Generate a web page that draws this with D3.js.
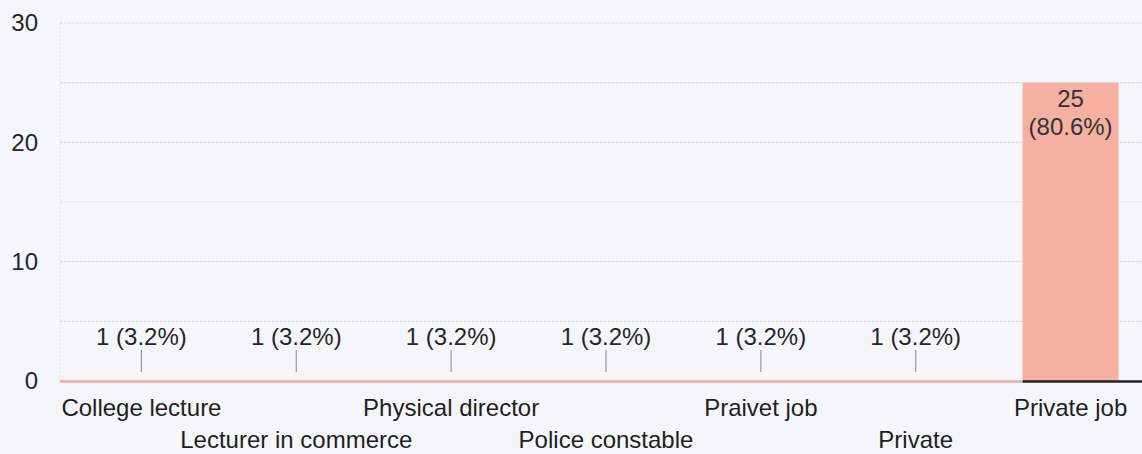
<!DOCTYPE html>
<html>
<head>
<meta charset="utf-8">
<script src="https://cdn.jsdelivr.net/npm/d3@7"></script>
<style>
  html, body { margin: 0; padding: 0; background: #f5f6f9; }
  svg { display: block; font-family: "Liberation Sans", Arial, sans-serif; }
</style>
</head>
<body>
<script>
// chart data
const categories = ['College lecture', 'Lecturer in commerce', 'Physical director', 'Police constable', 'Praivet job', 'Private', 'Private job'];
const counts = [1, 1, 1, 1, 1, 1, 25];
const percents = ['3.2%', '3.2%', '3.2%', '3.2%', '3.2%', '3.2%', '80.6%'];
const yTicks = [0, 10, 20, 30];
const yMinorTicks = [5, 15, 25];

const width = 1142,
  height = 454;

const fontSize = 24;

const svg = d3.select('body').append('svg')
  .attr('width', width)
  .attr('height', height);

const x = d3.scaleBand()
  .domain(categories)
  .range([64, 1148])
  .paddingInner(0.38)
  .paddingOuter(0.19);

const y = d3.scaleLinear()
  .domain([0, 30])
  .range([381, 23]);

// gridlines
svg.append('g')
  .selectAll('line.grid')
  .data(yTicks.concat(yMinorTicks).filter(d => d > 0))
  .join('line')
  .attr('x1', 60)
  .attr('x2', width)
  .attr('y1', d => y(d))
  .attr('y2', d => y(d))
  .attr('stroke', '#dcdde4')
  .attr('stroke-width', 1.2)
  .attr('stroke-dasharray', '3 1');

// faint left edge of plot
svg.append('line')
  .attr('x1', 60).attr('x2', 60)
  .attr('y1', y(30)).attr('y2', y(0))
  .attr('stroke', '#e0e1e8')
  .attr('stroke-dasharray', '2 2');

// y axis labels
const yAxis = d3.axisLeft(y).tickValues(yTicks).tickSize(0).tickPadding(0);
svg.append('g')
  .attr('transform', 'translate(38,0)')
  .call(yAxis)
  .call(g => g.select('.domain').remove())
  .selectAll('text')
  .attr('font-size', fontSize)
  .attr('font-family', '"Liberation Sans", Arial, sans-serif')
  .attr('fill', '#262626');

// bars (value-1 bars show up flat in the source picture)
const maxVal = d3.max(counts);
svg.append('g')
  .selectAll('rect')
  .data(categories)
  .join('rect')
  .attr('x', d => x(d))
  .attr('width', x.bandwidth())
  .attr('y', (d, i) => y(counts[i]))
  .attr('height', (d, i) => y(0) - y(counts[i]))
  .attr('fill', (d, i) => counts[i] === maxVal ? '#f5b0a2' : 'none');

// baseline: pink across the flat bars, dark under the tall one
const lastCat = categories[categories.length - 1];
svg.append('line')
  .attr('x1', 60).attr('x2', x(lastCat))
  .attr('y1', y(0) + 0.5).attr('y2', y(0) + 0.5)
  .attr('stroke', '#efaaa0')
  .attr('stroke-width', 2.5);
svg.append('line')
  .attr('x1', x(lastCat)).attr('x2', width)
  .attr('y1', y(0) + 0.5).attr('y2', y(0) + 0.5)
  .attr('stroke', '#222')
  .attr('stroke-width', 2.5);

// annotations
const ann = svg.append('g');
categories.forEach(function(c, i) {
  const cx = x(c) + x.bandwidth() / 2;
  if (counts[i] === maxVal) {
    ann.append('text')
      .attr('x', cx).attr('y', y(counts[i]) + 24)
      .attr('text-anchor', 'middle')
      .attr('font-size', fontSize)
      .attr('fill', '#333')
      .text(counts[i]);
    ann.append('text')
      .attr('x', cx).attr('y', y(counts[i]) + 52)
      .attr('text-anchor', 'middle')
      .attr('font-size', fontSize)
      .attr('fill', '#333')
      .text('(' + percents[i] + ')');
  } else {
    ann.append('text')
      .attr('x', cx).attr('y', y(counts[i]) - 24)
      .attr('text-anchor', 'middle')
      .attr('font-size', fontSize)
      .attr('fill', '#262626')
      .text(counts[i] + ' (' + percents[i] + ')');
    ann.append('line')
      .attr('x1', cx).attr('x2', cx)
      .attr('y1', y(counts[i]) - 19).attr('y2', y(counts[i]) + 3)
      .attr('stroke', '#9a9a9a')
      .attr('stroke-width', 1.2);
  }
});

// x labels, staggered on two rows
svg.append('g')
  .selectAll('text')
  .data(categories)
  .join('text')
  .attr('x', d => x(d) + x.bandwidth() / 2)
  .attr('y', (d, i) => i % 2 === 0 ? 416 : 448)
  .attr('text-anchor', 'middle')
  .attr('font-size', fontSize)
  .attr('fill', '#1f1f1f')
  .text(d => d);
</script>
</body>
</html>
